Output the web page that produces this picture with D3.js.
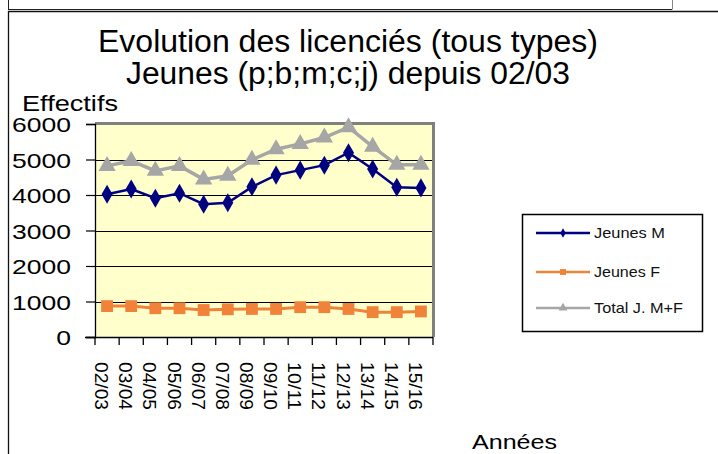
<!DOCTYPE html>
<html><head><meta charset="utf-8">
<script src="https://cdn.jsdelivr.net/npm/d3@7"></script>
<style>html,body{margin:0;padding:0;background:#fff;}svg{display:block;font-family:"Liberation Sans",Arial,sans-serif;}</style>
</head><body>
<svg id="c" width="718" height="454"></svg>
<script>
const categories = ["02/03","03/04","04/05","05/06","06/07","07/08","08/09","09/10","10/11","11/12","12/13","13/14","14/15","15/16"];
const jeunesM = [4020,4170,3910,4050,3740,3780,4230,4560,4700,4840,5190,4730,4220,4200];
const jeunesF = [870,870,810,810,760,780,790,790,840,840,790,700,700,720];
const totalMF = [4820,4960,4680,4820,4440,4540,4990,5290,5440,5620,5910,5360,4850,4850];
const yTicks = [0,1000,2000,3000,4000,5000,6000];
const seriesNames = ["Jeunes M","Jeunes F","Total J. M+F"];
const titleLines = ["Evolution des licenciés (tous types)","Jeunes (p;b;m;c;j) depuis 02/03"];

const svg = d3.select("#c");
// frame
svg.append("line").attr("x1",8).attr("x2",672).attr("y1",9.5).attr("y2",9.5).attr("stroke","#222").attr("stroke-width",1.2);
svg.append("line").attr("x1",8.5).attr("x2",8.5).attr("y1",0).attr("y2",9.5).attr("stroke","#222");
svg.append("line").attr("x1",672.5).attr("x2",672.5).attr("y1",0).attr("y2",9.5).attr("stroke","#888");
svg.append("line").attr("x1",8).attr("x2",718).attr("y1",11.5).attr("y2",11.5).attr("stroke","#111").attr("stroke-width",1.3);
svg.append("line").attr("x1",8.5).attr("x2",8.5).attr("y1",11).attr("y2",454).attr("stroke","#111").attr("stroke-width",1.3);

// titles
svg.append("text").attr("x",348).attr("y",52).attr("text-anchor","middle").attr("font-size",31)
  .attr("textLength",500).attr("lengthAdjust","spacingAndGlyphs").text(titleLines[0]);
svg.append("text").attr("x",348).attr("y",84).attr("text-anchor","middle").attr("font-size",31)
  .attr("textLength",444).attr("lengthAdjust","spacingAndGlyphs").text(titleLines[1]);

const L = 95, R = 433, T = 124, B = 337;
const x = d3.scaleBand().domain(categories).range([L,R]);
const y = d3.scaleLinear().domain([0,6000]).range([B,T]);

// plot area
svg.append("rect").attr("x",L).attr("y",T).attr("width",R-L).attr("height",B-T).attr("fill","#FFFFCC");
// gridlines
svg.append("g").selectAll("line").data(yTicks.filter(v=>v>0 && v<6000)).join("line")
  .attr("x1",L).attr("x2",R).attr("y1",d=>Math.round(y(d))+0.5).attr("y2",d=>Math.round(y(d))+0.5)
  .attr("stroke","#000").attr("stroke-width",1.2);
// gray border top/right
svg.append("line").attr("x1",L).attr("x2",R+2).attr("y1",T-0.5).attr("y2",T-0.5).attr("stroke","#808080").attr("stroke-width",3);
svg.append("line").attr("x1",R+0.5).attr("x2",R+0.5).attr("y1",T-2).attr("y2",B).attr("stroke","#808080").attr("stroke-width",3);

// y axis
const yAxis = d3.axisLeft(y).tickValues(yTicks).tickSize(9).tickFormat(d3.format("d"));
const gy = svg.append("g").attr("transform",`translate(${L},0)`).call(yAxis);
gy.select(".domain").attr("stroke","#000").attr("stroke-width",1.3);
gy.selectAll(".tick line").attr("stroke","#000").attr("stroke-width",1.2);
gy.selectAll(".tick text").attr("font-size",21).attr("fill","#000").attr("x",-24).attr("dy","0.36em")
  .attr("font-family","Liberation Sans, Arial, sans-serif")
  .each(function(d){ const s=String(d); d3.select(this).attr("textLength",s.length*14.75).attr("lengthAdjust","spacingAndGlyphs"); });

// x axis
const xAxis = d3.axisBottom(x).tickSize(0).tickFormat("");
const gx = svg.append("g").attr("transform",`translate(0,${B})`).call(xAxis);
gx.select(".domain").attr("stroke","#000").attr("stroke-width",1.5).attr("d",`M${L-10},0.5H${R}`);
const bounds = categories.map(c=>x(c)).concat([R]);
gx.selectAll("line.tk").data(bounds).join("line").attr("class","tk")
  .attr("x1",d=>d).attr("x2",d=>d).attr("y1",0).attr("y2",8).attr("stroke","#000").attr("stroke-width",1.3);
svg.append("g").selectAll("text").data(categories).join("text")
  .attr("transform",d=>`translate(${x(d)+x.bandwidth()/2-12},362) rotate(90)`)
  .attr("font-size",18).attr("textLength",48).attr("lengthAdjust","spacingAndGlyphs").text(d=>d);

// axis titles
svg.append("text").attr("x",22).attr("y",111).attr("font-size",22).attr("textLength",96).attr("lengthAdjust","spacingAndGlyphs").text("Effectifs");
svg.append("text").attr("x",472).attr("y",449).attr("font-size",21).attr("textLength",85).attr("lengthAdjust","spacingAndGlyphs").text("Années");

// series
const cx = d => x(d)+x.bandwidth()/2;
const series = [
  {name:seriesNames[0], values:jeunesM, color:"#000080", sym:d3.symbolDiamond, size:105, w:2.5},
  {name:seriesNames[1], values:jeunesF, color:"#F0823A", sym:d3.symbolSquare, size:140, w:3},
  {name:seriesNames[2], values:totalMF, color:"#A6A6A6", sym:d3.symbolTriangle, size:130, w:3.5}
];
const drawOrder = [series[2], series[1], series[0]];
drawOrder.forEach(s=>{
  const pts = categories.map((c,i)=>[cx(c), y(s.values[i])]);
  svg.append("path").attr("d",d3.line()(pts)).attr("fill","none").attr("stroke",s.color).attr("stroke-width",s.w);
  svg.append("g").selectAll("path").data(pts).join("path")
    .attr("transform",p=>`translate(${p[0]},${p[1]})`)
    .attr("d",d3.symbol().type(s.sym).size(s.size)).attr("fill",s.color);
});

// legend
svg.append("rect").attr("x",522.5).attr("y",214.5).attr("width",180).attr("height",117).attr("fill","#fff").attr("stroke","#000").attr("stroke-width",1.5);
const ly = [233,272,308];
series.forEach((s,i)=>{
  svg.append("line").attr("x1",536).attr("x2",590).attr("y1",ly[i]).attr("y2",ly[i]).attr("stroke",s.color).attr("stroke-width",2.5);
  svg.append("path").attr("transform",`translate(563,${ly[i]})`).attr("d",d3.symbol().type(s.sym).size(i===0?25:35)).attr("fill",s.color);
  const tl = [71,66,89][i];
  svg.append("text").attr("x",594).attr("y",ly[i]+5).attr("font-size",14.5).attr("fill","#111")
    .attr("textLength",tl).attr("lengthAdjust","spacingAndGlyphs").text(s.name);
});
</script>
</body></html>
